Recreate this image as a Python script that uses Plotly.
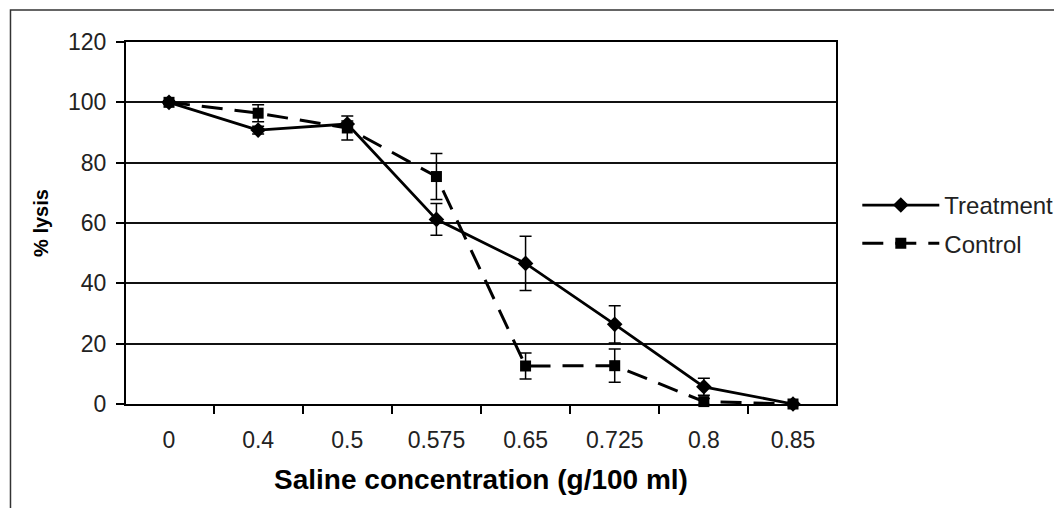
import plotly.graph_objects as go

categories = ["0", "0.4", "0.5", "0.575", "0.65", "0.725", "0.8", "0.85"]
treatment = [100, 90.8, 92.8, 61.2, 46.6, 26.4, 5.7, 0]
treatment_err = [0.5, 1.3, 1.0, 5.3, 9.0, 6.2, 2.8, 0.3]
control = [100, 96.4, 91.5, 75.4, 12.6, 12.7, 0.8, 0]
control_err = [0.5, 2.8, 4.0, 7.6, 4.3, 5.5, 1.0, 0.3]

# page body has an 8px margin; compensate
L, T = 118, 34
PW, PH = 713, 362

fig = go.Figure()
fig.add_trace(go.Scatter(
    x=categories, y=treatment, name="Treatment", mode="lines+markers",
    line=dict(color="black", width=2.8),
    marker=dict(symbol="diamond", size=12, color="black"),
    error_y=dict(type="data", array=treatment_err, visible=True, color="black", thickness=1.5, width=6),
    legendgroup="t", cliponaxis=False,
))
fig.add_trace(go.Scatter(
    x=categories, y=control, name="Control", mode="lines+markers",
    line=dict(color="black", width=3, dash="21px,12px"),
    marker=dict(symbol="square", size=11, color="black"),
    error_y=dict(type="data", array=control_err, visible=True, color="black", thickness=1.5, width=6),
    legendgroup="c", cliponaxis=False,
))

fig.update_layout(
    width=1062, height=508,
    margin=dict(l=L, r=1062 - L - PW, t=T, b=508 - T - PH),
    paper_bgcolor="white", plot_bgcolor="white",
    font=dict(family="Liberation Sans, Arial, sans-serif", color="#222", size=22),
    showlegend=True,
    legend=dict(x=1.03, y=0.496, xanchor="left", yanchor="middle",
                font=dict(size=24, color="#222"), tracegroupgap=4,
                traceorder="grouped", itemwidth=77, bgcolor="rgba(0,0,0,0)"),
    xaxis=dict(
        type="category", categoryorder="array", categoryarray=categories,
        showline=True, linecolor="black", linewidth=2, mirror=True,
        ticks="outside", tickson="boundaries", ticklen=8, tickwidth=1.5, tickcolor="black",
        showgrid=False, ticklabelstandoff=14,
        tickfont=dict(size=23, color="#222"),
        title=dict(text="<b>Saline concentration (g/100 ml)</b>", font=dict(size=28, color="black"), standoff=18),
    ),
    yaxis=dict(
        range=[0, 120], tickvals=[0, 20, 40, 60, 80, 100, 120],
        showline=True, linecolor="black", linewidth=2, mirror=True,
        ticks="outside", ticklen=8, tickwidth=1.5, tickcolor="black",
        showgrid=True, gridcolor="#111", gridwidth=1.5, zeroline=False,
        ticklabelstandoff=5,
        tickfont=dict(size=23, color="#222"),
        title=dict(text="<b>% lysis</b>", font=dict(size=20, color="black"), standoff=14),
    ),
    shapes=[dict(type="rect", xref="paper", yref="paper",
                 x0=(2 - L) / PW, x1=1.5, y0=-0.5, y1=1 + 32 / PH,
                 line=dict(color="#333", width=1.5), layer="below")],
)

fig.write_html("out.html")
